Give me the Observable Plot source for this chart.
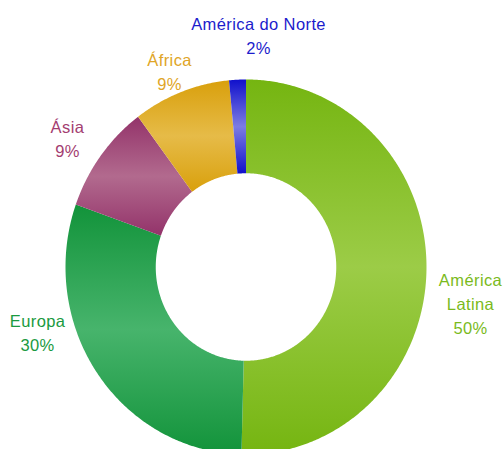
<!DOCTYPE html>
<html><head><meta charset="utf-8">
<script src="https://cdn.jsdelivr.net/npm/d3@7"></script>
<script src="https://cdn.jsdelivr.net/npm/@observablehq/plot@0.6"></script>
<style>html,body{margin:0;padding:0;background:#fff;overflow:hidden}
#chart svg text{letter-spacing:0.4px}</style>
</head><body><div id="chart"></div>
<script>
// ---- data ----
const regions = ["América Latina", "Europa", "Ásia", "África", "América do Norte"];
const regionLabels = ["América\nLatina", "Europa", "Ásia", "África", "América do Norte"];
const shares = [50.4, 30.0, 9.4, 8.7, 1.5];
const percentLabels = ["50%", "30%", "9%", "9%", "2%"];

// ---- style ----
const sliceDark = ["#75b511", "#12933a", "#93336a", "#d9a00c", "#1010cc"];
const sliceLight = ["#9ccc47", "#47b46c", "#b26a8e", "#e6bb48", "#7c7ce3"];
const textColors = ["#7aba1c", "#1a9a40", "#a33d70", "#e0a526", "#1c1ccc"];
// label placement (angle clockwise from top in degrees, radius relative to outer ring)
const labelAngle = [98.6, 253.4, 304.9, 338, 3.2];
const labelRadius = [1.258, 1.205, 1.206, 1.13, 1.245];
const innerRatio = 0.5;

const arcs = d3.pie().sort(null).value(d => d)(shares);

function slicePoints(a0, a1) {
  const pts = [];
  const n = Math.max(4, Math.ceil((a1 - a0) / (Math.PI / 360)));
  for (let k = 0; k <= n; k++) {
    const a = a0 + (a1 - a0) * k / n;
    pts.push({x: Math.sin(a), y: Math.cos(a)});
  }
  for (let k = n; k >= 0; k--) {
    const a = a0 + (a1 - a0) * k / n;
    pts.push({x: innerRatio * Math.sin(a), y: innerRatio * Math.cos(a)});
  }
  return pts;
}

const marks = [];
arcs.forEach((arc, i) => {
  marks.push(Plot.line(slicePoints(arc.startAngle, arc.endAngle), {
    x: "x", y: "y", fill: `url(#grad${i})`, stroke: "none", curve: "linear"
  }));
});
regions.forEach((r, i) => {
  const a = labelAngle[i] * Math.PI / 180;
  marks.push(Plot.text([i], {
    x: () => labelRadius[i] * Math.sin(a),
    y: () => labelRadius[i] * Math.cos(a),
    text: () => regionLabels[i] + "\n" + percentLabels[i],
    fill: textColors[i],
    fontSize: 16.5,
    fontFamily: "'Liberation Sans', Arial, sans-serif",
    lineHeight: 1.45,
    textAnchor: "middle",
    lineAnchor: "middle"
  }));
});

const svg = Plot.plot({
  width: 504,
  height: 449,
  marginLeft: 65,
  marginRight: 78,
  marginTop: 79,
  marginBottom: 0,
  x: {domain: [-1, 1], axis: null},
  y: {domain: [-0.9733, 1], axis: null},
  style: {background: "white", overflow: "hidden"},
  marks
});

const defs = d3.select(svg).insert("defs", ":first-child");
regions.forEach((r, i) => {
  const g = defs.append("linearGradient").attr("id", `grad${i}`)
    .attr("x1", 0).attr("y1", 0).attr("x2", 0).attr("y2", 1);
  g.append("stop").attr("offset", "0%").attr("stop-color", sliceDark[i]);
  g.append("stop").attr("offset", "50%").attr("stop-color", sliceLight[i]);
  g.append("stop").attr("offset", "100%").attr("stop-color", sliceDark[i]);
});

document.getElementById("chart").appendChild(svg);
</script>
</body></html>
